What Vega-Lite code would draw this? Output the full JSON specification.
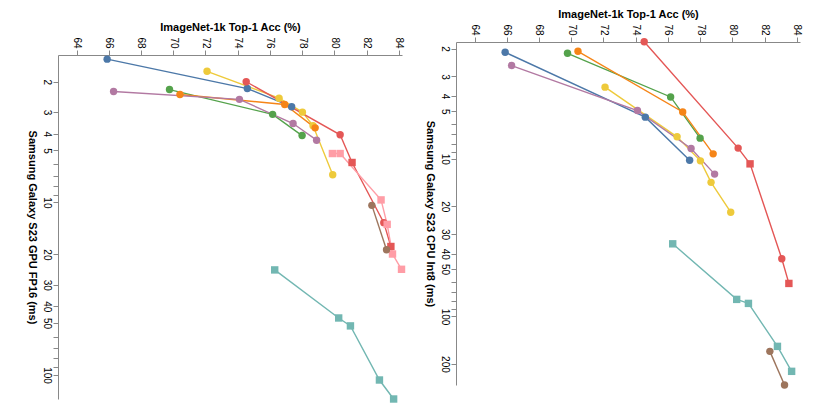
{
  "$schema": "https://vega.github.io/schema/vega-lite/v6.json",
  "padding": {"left": 26, "top": 8, "right": 5, "bottom": 0},
  "spacing": 18,
  "background": "white",
  "config": {
    "font": "Liberation Sans",
    "view": {"stroke": null},
    "axis": {
      "grid": false,
      "domainColor": "#888888",
      "tickColor": "#888888",
      "labelColor": "#000000",
      "labelFontSize": 10,
      "titleFontSize": 11,
      "titleFontWeight": "bold",
      "titleColor": "#000000",
      "labelAngle": 90
    },
    "axisY": {"labelAlign": "center", "labelBaseline": "top", "titleAngle": 90, "titleBaseline": "top"},
    "axisTop": {"labelAlign": "right", "labelBaseline": "middle"}
  },
  "datasets": {
    "points": [
      {"panel": "GPU", "series": "S1", "acc": 65.9, "latency": 1.48, "marker": "circle"},
      {"panel": "GPU", "series": "S1", "acc": 74.6, "latency": 2.19, "marker": "circle"},
      {"panel": "GPU", "series": "S1", "acc": 77.35, "latency": 2.79, "marker": "circle"},
      {"panel": "GPU", "series": "S6", "acc": 72.1, "latency": 1.74, "marker": "circle"},
      {"panel": "GPU", "series": "S6", "acc": 76.57, "latency": 2.49, "marker": "circle"},
      {"panel": "GPU", "series": "S6", "acc": 78.02, "latency": 3.0, "marker": "circle"},
      {"panel": "GPU", "series": "S6", "acc": 78.68, "latency": 3.6, "marker": "circle"},
      {"panel": "GPU", "series": "S6", "acc": 79.9, "latency": 6.92, "marker": "circle"},
      {"panel": "GPU", "series": "S5", "acc": 69.77, "latency": 2.22, "marker": "circle"},
      {"panel": "GPU", "series": "S5", "acc": 76.17, "latency": 3.09, "marker": "circle"},
      {"panel": "GPU", "series": "S5", "acc": 78.0, "latency": 4.1, "marker": "circle"},
      {"panel": "GPU", "series": "S2", "acc": 70.42, "latency": 2.37, "marker": "circle"},
      {"panel": "GPU", "series": "S2", "acc": 76.92, "latency": 2.71, "marker": "circle"},
      {"panel": "GPU", "series": "S2", "acc": 78.81, "latency": 3.7, "marker": "circle"},
      {"panel": "GPU", "series": "S7", "acc": 66.3, "latency": 2.28, "marker": "circle"},
      {"panel": "GPU", "series": "S7", "acc": 74.11, "latency": 2.53, "marker": "circle"},
      {"panel": "GPU", "series": "S7", "acc": 77.44, "latency": 3.49, "marker": "circle"},
      {"panel": "GPU", "series": "S7", "acc": 78.9, "latency": 4.36, "marker": "circle"},
      {"panel": "GPU", "series": "S3", "acc": 74.53, "latency": 2.0, "marker": "circle"},
      {"panel": "GPU", "series": "S3", "acc": 80.36, "latency": 4.06, "marker": "circle"},
      {"panel": "GPU", "series": "S3", "acc": 81.1, "latency": 5.87, "marker": "square"},
      {"panel": "GPU", "series": "S3", "acc": 83.07, "latency": 13.1, "marker": "circle"},
      {"panel": "GPU", "series": "S3", "acc": 83.51, "latency": 18.0, "marker": "square"},
      {"panel": "GPU", "series": "S8", "acc": 79.88, "latency": 5.21, "marker": "square"},
      {"panel": "GPU", "series": "S8", "acc": 80.36, "latency": 5.21, "marker": "square"},
      {"panel": "GPU", "series": "S8", "acc": 82.9, "latency": 9.67, "marker": "square"},
      {"panel": "GPU", "series": "S8", "acc": 83.28, "latency": 13.4, "marker": "square"},
      {"panel": "GPU", "series": "S8", "acc": 83.61, "latency": 19.9, "marker": "square"},
      {"panel": "GPU", "series": "S8", "acc": 84.17, "latency": 24.4, "marker": "square"},
      {"panel": "GPU", "series": "S9", "acc": 82.33, "latency": 10.4, "marker": "circle"},
      {"panel": "GPU", "series": "S9", "acc": 83.24, "latency": 18.8, "marker": "circle"},
      {"panel": "GPU", "series": "S4", "acc": 76.3, "latency": 24.6, "marker": "square"},
      {"panel": "GPU", "series": "S4", "acc": 80.27, "latency": 46.7, "marker": "square"},
      {"panel": "GPU", "series": "S4", "acc": 81.0, "latency": 51.9, "marker": "square"},
      {"panel": "GPU", "series": "S4", "acc": 82.8, "latency": 106.8, "marker": "square"},
      {"panel": "GPU", "series": "S4", "acc": 83.68, "latency": 137.6, "marker": "square"},

      {"panel": "CPU", "series": "S1", "acc": 65.9, "latency": 2.11, "marker": "circle"},
      {"panel": "CPU", "series": "S1", "acc": 74.6, "latency": 5.44, "marker": "circle"},
      {"panel": "CPU", "series": "S1", "acc": 77.35, "latency": 10.2, "marker": "circle"},
      {"panel": "CPU", "series": "S6", "acc": 72.1, "latency": 3.51, "marker": "circle"},
      {"panel": "CPU", "series": "S6", "acc": 76.57, "latency": 7.25, "marker": "circle"},
      {"panel": "CPU", "series": "S6", "acc": 78.02, "latency": 10.3, "marker": "circle"},
      {"panel": "CPU", "series": "S6", "acc": 78.68, "latency": 14.1, "marker": "circle"},
      {"panel": "CPU", "series": "S6", "acc": 79.9, "latency": 21.8, "marker": "circle"},
      {"panel": "CPU", "series": "S5", "acc": 69.77, "latency": 2.14, "marker": "circle"},
      {"panel": "CPU", "series": "S5", "acc": 76.17, "latency": 4.05, "marker": "circle"},
      {"panel": "CPU", "series": "S5", "acc": 78.0, "latency": 7.39, "marker": "circle"},
      {"panel": "CPU", "series": "S2", "acc": 70.42, "latency": 2.08, "marker": "circle"},
      {"panel": "CPU", "series": "S2", "acc": 76.92, "latency": 5.04, "marker": "circle"},
      {"panel": "CPU", "series": "S2", "acc": 78.81, "latency": 9.3, "marker": "circle"},
      {"panel": "CPU", "series": "S7", "acc": 66.3, "latency": 2.56, "marker": "circle"},
      {"panel": "CPU", "series": "S7", "acc": 74.11, "latency": 4.94, "marker": "circle"},
      {"panel": "CPU", "series": "S7", "acc": 77.44, "latency": 8.6, "marker": "circle"},
      {"panel": "CPU", "series": "S7", "acc": 78.9, "latency": 12.5, "marker": "circle"},
      {"panel": "CPU", "series": "S3", "acc": 74.53, "latency": 1.81, "marker": "circle"},
      {"panel": "CPU", "series": "S3", "acc": 80.36, "latency": 8.55, "marker": "circle"},
      {"panel": "CPU", "series": "S3", "acc": 81.1, "latency": 10.76, "marker": "square"},
      {"panel": "CPU", "series": "S3", "acc": 83.07, "latency": 43.0, "marker": "circle"},
      {"panel": "CPU", "series": "S3", "acc": 83.51, "latency": 61.7, "marker": "square"},
      {"panel": "CPU", "series": "S9", "acc": 82.33, "latency": 166.4, "marker": "circle"},
      {"panel": "CPU", "series": "S9", "acc": 83.24, "latency": 271.8, "marker": "circle"},
      {"panel": "CPU", "series": "S4", "acc": 76.3, "latency": 34.6, "marker": "square"},
      {"panel": "CPU", "series": "S4", "acc": 80.27, "latency": 77.9, "marker": "square"},
      {"panel": "CPU", "series": "S4", "acc": 81.0, "latency": 82.6, "marker": "square"},
      {"panel": "CPU", "series": "S4", "acc": 82.8, "latency": 154.7, "marker": "square"},
      {"panel": "CPU", "series": "S4", "acc": 83.68, "latency": 222.8, "marker": "square"}
    ]
  },
  "hconcat": [
    {
      "width": 344,
      "height": 357,
      "data": {"name": "points"},
      "transform": [{"filter": "datum.panel === 'GPU'"}],
      "encoding": {
        "x": {
          "field": "acc", "type": "quantitative",
          "scale": {"domain": [62.85, 84.2], "nice": false, "zero": false},
          "axis": {"orient": "top", "offset": -13, "title": "ImageNet-1k Top-1 Acc (%)", "values": [64, 66, 68, 70, 72, 74, 76, 78, 80, 82, 84]}
        },
        "y": {
          "field": "latency", "type": "quantitative",
          "scale": {"type": "log", "domain": [1.4, 137.6], "nice": false, "range": [13, 357]},
          "axis": {"title": "Samsung Galaxy S23 GPU FP16 (ms)"}
        },
        "color": {
          "field": "series", "type": "nominal", "legend": null,
          "scale": {"domain": ["S1", "S2", "S3", "S4", "S5", "S6", "S7", "S8", "S9"], "scheme": "tableau10"}
        }
      },
      "layer": [
        {"mark": {"type": "line", "strokeWidth": 1.4}, "encoding": {"detail": {"field": "series"}}},
        {"mark": {"type": "point", "filled": true, "opacity": 1, "size": 55},
         "encoding": {"shape": {"field": "marker", "type": "nominal", "legend": null, "scale": {"domain": ["circle", "square"], "range": ["circle", "square"]}}}}
      ]
    },
    {
      "width": 344,
      "height": 343,
      "data": {"name": "points"},
      "transform": [{"filter": "datum.panel === 'CPU'"}],
      "encoding": {
        "x": {
          "field": "acc", "type": "quantitative",
          "scale": {"domain": [62.85, 84.2], "nice": false, "zero": false},
          "axis": {"orient": "top", "title": "ImageNet-1k Top-1 Acc (%)", "values": [64, 66, 68, 70, 72, 74, 76, 78, 80, 82, 84]}
        },
        "y": {
          "field": "latency", "type": "quantitative",
          "scale": {"type": "log", "domain": [1.815, 272], "nice": false, "reverse": true},
          "axis": {"title": "Samsung Galaxy S23 CPU Int8 (ms)"}
        },
        "color": {
          "field": "series", "type": "nominal", "legend": null,
          "scale": {"domain": ["S1", "S2", "S3", "S4", "S5", "S6", "S7", "S8", "S9"], "scheme": "tableau10"}
        }
      },
      "layer": [
        {"mark": {"type": "line", "strokeWidth": 1.4}, "encoding": {"detail": {"field": "series"}}},
        {"mark": {"type": "point", "filled": true, "opacity": 1, "size": 55},
         "encoding": {"shape": {"field": "marker", "type": "nominal", "legend": null, "scale": {"domain": ["circle", "square"], "range": ["circle", "square"]}}}}
      ]
    }
  ]
}
